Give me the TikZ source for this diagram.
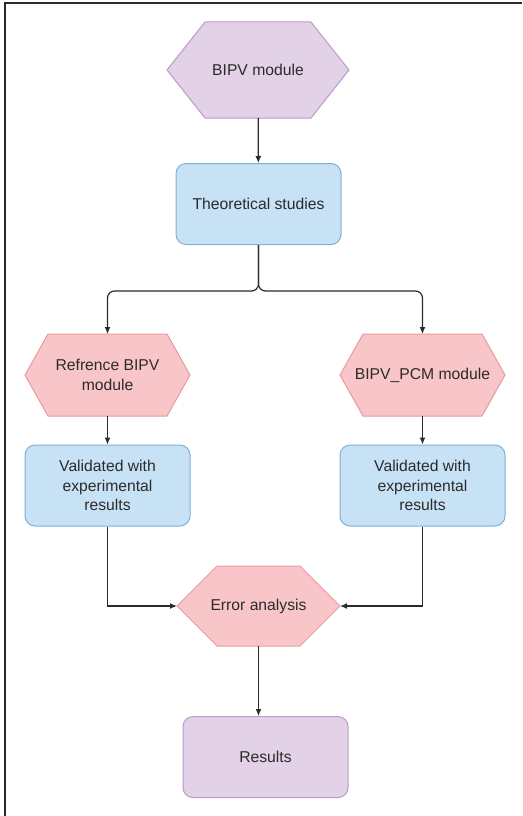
\documentclass[tikz,border=0pt]{standalone}
\usepackage{fontspec}
\setmainfont{Liberation Sans}
\usetikzlibrary{arrows.meta}
\definecolor{lilac}{HTML}{E2D1E7}
\definecolor{lilacline}{HTML}{B99BC6}
\definecolor{skyfill}{HTML}{C7E1F5}
\definecolor{skyline}{HTML}{7FB1D6}
\definecolor{rosefill}{HTML}{F8C6C8}
\definecolor{roseline}{HTML}{E89A9D}
\definecolor{ink}{HTML}{2B2B2B}
\begin{document}
\begin{tikzpicture}[x=1pt, y=-1pt,
    every node/.style={font=\fontsize{15.7}{19.5}\selectfont, text=ink, align=center},
    hexa/.style n args={3}{inner sep=0pt, outer sep=-1pt, path picture={
        \path[fill=#2, draw=#3, line width=1pt]
          ([xshift=1pt]path picture bounding box.west)
          -- ([xshift=#1+1pt, yshift=-1pt]path picture bounding box.north west)
          -- ([xshift=-#1-1pt, yshift=-1pt]path picture bounding box.north east)
          -- ([xshift=-1pt]path picture bounding box.east)
          -- ([xshift=-#1-1pt, yshift=1pt]path picture bounding box.south east)
          -- ([xshift=#1+1pt, yshift=1pt]path picture bounding box.south west)
          -- cycle;}},
    box/.style={rounded corners=10pt, draw=skyline, fill=skyfill, line width=1pt, minimum width=165pt, minimum height=81pt},
    arr/.style={-{Latex[length=7pt,width=6pt]}, draw=ink, line width=1.2pt}]
    \useasboundingbox (0,0) rectangle (522,816);
    \draw[line width=2pt, draw=ink] (5,816) -- (5,3) -- (522,3);
    \node[hexa={38pt}{lilac}{lilacline}, minimum width=184pt, minimum height=98pt] (A) at (258,70) {BIPV module};
    \node[box] (B) at (258.5,204) {Theoretical studies};
    \draw[arr] (A) -- (B);
    \node[hexa={23pt}{rosefill}{roseline}, minimum width=167pt, minimum height=84pt] (C) at (107.5,375) {Refrence BIPV\\module};
    \node[hexa={23pt}{rosefill}{roseline}, minimum width=167pt, minimum height=84pt] (D) at (422.5,375) {BIPV\_PCM module};
    \draw[arr, rounded corners=7pt] (B.south) -- ++(0,46) -| (C.north);
    \draw[arr, rounded corners=7pt] (B.south) -- ++(0,46) -| (D.north);
    \node[box] (E) at (107.5,485.5) {Validated with\\experimental\\results};
    \node[box] (F) at (422.5,485.5) {Validated with\\experimental\\results};
    \draw[arr] (C) -- (E);
    \draw[arr] (D) -- (F);
    \node[hexa={40pt}{rosefill}{roseline}, minimum width=165pt, minimum height=82pt] (G) at (258.5,606) {Error analysis};
    \draw[arr] (E.south) |- (G.west);
    \draw[arr] (F.south) |- (G.east);
    \node[box, draw=lilacline, fill=lilac] (H) at (265.5,757) {Results};
    \draw[arr] (G.south) -- (G.south |- H.north);
\end{tikzpicture}
\end{document}
